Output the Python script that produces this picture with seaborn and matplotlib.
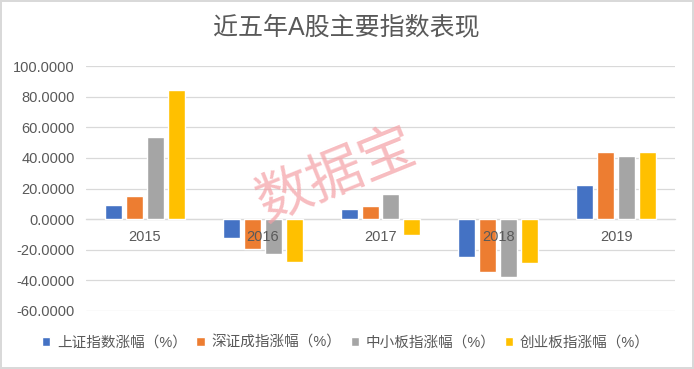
import pandas as pd
import matplotlib.pyplot as plt
import seaborn as sns

# data
years = ["2015", "2016", "2017", "2018", "2019"]
series_names = ["上证指数涨幅（%）", "深证成指涨幅（%）", "中小板指涨幅（%）", "创业板指涨幅（%）"]
sh_index = [9.41, -12.31, 6.56, -24.59, 22.30]
sz_index = [14.98, -19.64, 8.48, -34.42, 44.08]
sme_index = [53.70, -22.89, 16.73, -37.75, 41.03]
gem_index = [84.41, -27.71, -10.67, -28.65, 43.79]
colors = ["#4472C4", "#ED7D31", "#A5A5A5", "#FFC000"]

rows = []
for name, vals in zip(series_names, [sh_index, sz_index, sme_index, gem_index]):
    for y, v in zip(years, vals):
        rows.append({"year": y, "series": name, "value": v})
df = pd.DataFrame(rows)

sns.set_theme(style="white")
plt.rcParams['font.family'] = ['Liberation Sans', 'Noto Sans CJK SC']
plt.rcParams['axes.unicode_minus'] = False

fig = plt.figure(figsize=(6.94, 3.69), dpi=100, edgecolor='#d9d9d9', linewidth=1.5)
ax = fig.add_axes([86 / 694, 58 / 369, 589 / 694, 245 / 369])

sns.barplot(data=df, x="year", y="value", hue="series", hue_order=series_names,
            palette=colors, width=0.71, gap=0.19, ax=ax, saturation=1)

# gridlines behind the bars, year labels on top of them
ax.set_axisbelow(True)
ax.xaxis.set_zorder(3)
ax.set_ylim(-60, 100)
ax.set_yticks(range(-60, 101, 20))
ax.set_yticklabels([f"{v:.4f}" for v in range(-60, 101, 20)])
ax.set_xlim(-0.5, 4.5)
ax.set_xlabel("")
ax.set_ylabel("")
ax.grid(axis='y', color='#d9d9d9', linewidth=0.9)
for s in ['top', 'right', 'left']:
    ax.spines[s].set_visible(False)
ax.spines['bottom'].set_position(('data', 0))
ax.spines['bottom'].set_color('#d9d9d9')
ax.spines['bottom'].set_linewidth(0.9)
ax.spines['bottom'].set_zorder(0.6)
ax.tick_params(axis='x', length=0, pad=8, labelsize=10.5, labelcolor='#595959')
ax.tick_params(axis='y', length=0, pad=8, labelsize=10.5, labelcolor='#595959')

handles, labels = ax.get_legend_handles_labels()
ax.get_legend().remove()
fig.legend(handles, labels, loc='center', bbox_to_anchor=(346 / 694, 26 / 369),
           ncol=4, frameon=False, fontsize=10.5, handlelength=0.57, handleheight=0.57,
           handletextpad=0.48, columnspacing=0.62, labelcolor='#595959', borderaxespad=0)

fig.text(346 / 694, 1 - 27 / 369, "近五年A股主要指数表现", ha='center', va='center',
         fontsize=18, color='#595959')

# watermark
fig.text(337 / 694, 1 - 177 / 369, "数据宝", ha='center', va='center', rotation=22,
         fontsize=40, color='#f4a0a5', alpha=0.7, zorder=10)

fig.savefig("out.png", dpi=100)
